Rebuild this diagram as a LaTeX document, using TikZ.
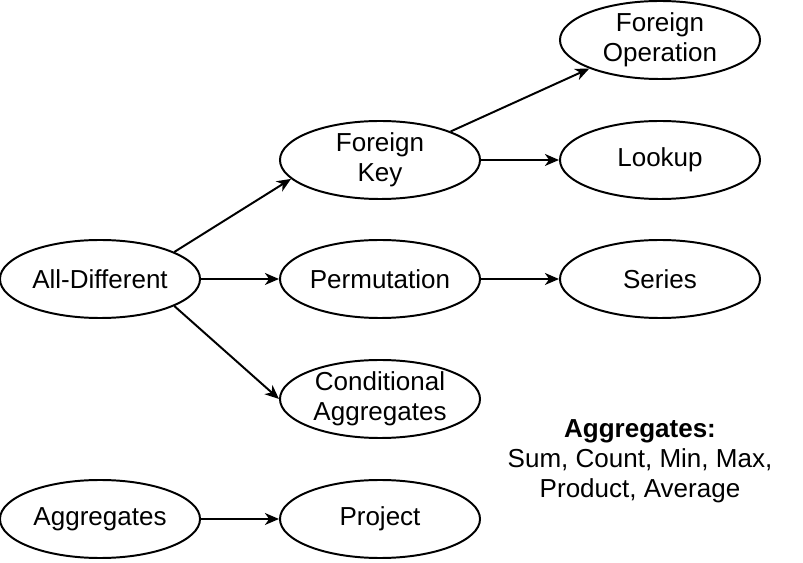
\documentclass[tikz,border=0pt]{standalone}
\usepackage{fontspec}
\setmainfont{Liberation Sans}
\usetikzlibrary{shapes.geometric, arrows.meta}
\begin{document}
\begin{tikzpicture}[x=0.025cm, y=-0.025cm,
    constraint/.style={draw, ellipse, line width=1.4pt, inner sep=0pt,
      minimum width=5cm, minimum height=1.95cm, align=center,
      font=\fontsize{18.5}{21.6}\selectfont},
    link/.style={line width=1.4pt, -{Stealth[length=10pt, width=8.5pt, inset=3pt]}}]
  \useasboundingbox (0, 0) rectangle (803, 563);
  % Place the constraint nodes.
  \node[constraint] (alldiff) at (100, 279) {All-Different};
  \node[constraint] (fkey) at (380, 160) {\raisebox{-1.5pt}{Foreign}\\\raisebox{-1.5pt}{Key}};
  \node[constraint] (perm) at (380, 279) {Permutation};
  \node[constraint] (condagg) at (380, 399) {\raisebox{-1.5pt}{Conditional}\\\raisebox{-1.5pt}{Aggregates}};
  \node[constraint] (fop) at (660, 40) {\raisebox{-1.5pt}{Foreign}\\\raisebox{-1.5pt}{Operation}};
  \node[constraint] (lookup) at (660, 160) {Lookup};
  \node[constraint] (series) at (660, 279) {Series};
  \node[constraint] (agg) at (100, 519) {Aggregates};
  \node[constraint] (project) at (380, 519) {Project};
  % Draw the links between the constraints.
  \draw[link] (alldiff.20.6) -- (fkey.192.5);
  \draw[link] (alldiff) -- (perm);
  \draw[link] (alldiff.-20.6) -- (condagg.180);
  \draw[link] (fkey.22) -- (fop.202);
  \draw[link] (fkey) -- (lookup);
  \draw[link] (perm) -- (series);
  \draw[link] (agg) -- (project);
  % List the aggregate functions.
  \node[align=center, font=\fontsize{18.5}{21.3}\selectfont] (agglist) at (640, 461)
    {\textbf{Aggregates:}\\Sum, Count, Min, Max,\\Product, Average};
\end{tikzpicture}
\end{document}
